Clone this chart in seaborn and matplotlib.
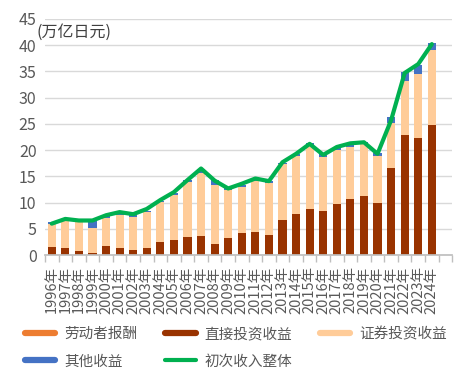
import numpy as np
import pandas as pd
import matplotlib
matplotlib.use('Agg')
import matplotlib.pyplot as plt
from matplotlib.lines import Line2D
from matplotlib.ticker import MultipleLocator
import seaborn as sns

sns.set_theme(style='white')
plt.rcParams['font.family'] = ['Noto Sans CJK SC', 'DejaVu Sans']

years = [str(y) + '年' for y in range(1996, 2025)]
# 各项收益（万亿日元）
labor = [0.03] * 29
direct = [1.6, 1.3, 0.8, 0.4, 1.8, 1.3, 1.0, 1.3, 2.5, 2.9, 3.4, 3.6, 2.0, 3.3, 4.1,
          4.4, 3.9, 6.7, 7.9, 8.8, 8.4, 9.7, 10.7, 11.2, 9.9, 16.6, 22.8, 22.2, 24.7]
securities = [4.3, 5.4, 5.4, 4.8, 5.2, 6.3, 6.3, 6.8, 7.5, 8.5, 10.5, 12.1, 11.3, 9.0, 8.9,
              9.6, 9.8, 10.6, 11.0, 12.0, 10.3, 10.3, 9.8, 10.1, 9.0, 8.5, 10.4, 12.2, 14.4]
other = [0.3, 0.0, 0.2, 1.5, 0.4, 0.3, 0.3, 0.2, 0.3, 0.4, 0.4, 0.7, 1.0, 0.4, 0.3,
         0.3, 0.3, 0.3, 0.4, 0.5, 0.6, 0.3, 0.7, 0.2, 0.5, 1.1, 1.7, 1.7, 1.2]
total = [6.0, 6.9, 6.6, 6.6, 7.6, 8.2, 7.8, 8.8, 10.5, 12.0, 14.3, 16.5, 14.2, 12.7, 13.6,
         14.6, 14.1, 17.7, 19.3, 21.2, 19.1, 20.6, 21.3, 21.5, 19.3, 25.7, 34.7, 36.4, 40.2]

df = pd.DataFrame({'year': years, 'labor': labor, 'direct': direct,
                   'securities': securities, 'other': other})
df['c1'] = df['labor']
df['c2'] = df['c1'] + df['direct']
df['c3'] = df['c2'] + df['securities']
df['c4'] = df['c3'] + df['other']

c_labor = '#ED7D31'
c_direct = '#993300'
c_sec = '#FFCC99'
c_other = '#4472C4'
c_total = '#00B050'

order = years + [' ']  # Excel 留了一个空位

fig = plt.figure(figsize=(4.73, 3.78), dpi=100)
ax = fig.add_axes([0.095, 0.325, 0.861, 0.625])

# 从上往下叠着画，后画的盖住前面的
for col, c in [('c4', c_other), ('c3', c_sec), ('c2', c_direct), ('c1', c_labor)]:
    sns.barplot(data=df, x='year', y=col, order=order, color=c, width=0.6,
                saturation=1, ax=ax, linewidth=0)

sns.lineplot(x=np.arange(len(years)), y=total, color=c_total, lw=3, ax=ax)

ax.set_xlim(-0.5, len(order) - 0.5)
ax.set_ylim(0, 45)
ax.yaxis.set_major_locator(MultipleLocator(5))
ax.grid(axis='y', color='#D9D9D9', lw=1)
ax.set_axisbelow(True)
for s in ['top', 'right', 'left']:
    ax.spines[s].set_visible(False)
ax.spines['bottom'].set_color('#BFBFBF')
ax.set_xlabel('')
ax.set_ylabel('')
ax.set_xticks(range(len(order)))
ax.set_xticklabels(order, rotation=90, fontsize=10.5, color='#595959')
ax.tick_params(axis='x', which='major', length=0, pad=8)
ax.set_xticks(np.arange(-0.5, len(order)), minor=True)
ax.tick_params(axis='x', which='minor', length=5, color='#BFBFBF', width=1, bottom=True)
ax.tick_params(axis='y', length=0, labelsize=11.5, labelcolor='#595959', pad=6)

fig.text(0.078, 0.915, '(万亿日元)', fontsize=11.5, color='#404040', va='center')

# 按列填充，所以顺序要调一下才能横着排
handles = [Line2D([], [], color=c_labor, lw=4.5),
           Line2D([], [], color=c_other, lw=4.5),
           Line2D([], [], color=c_direct, lw=4.5),
           Line2D([], [], color=c_total, lw=3),
           Line2D([], [], color=c_sec, lw=4.5)]
labels = ['劳动者报酬', '其他收益', '直接投资收益', '初次收入整体', '证券投资收益']
fig.legend(handles, labels, ncol=3, loc='lower left', bbox_to_anchor=(0.04, 0.01),
           frameon=False, fontsize=10.5, handlelength=2.1, handletextpad=0.6,
           columnspacing=1.9, labelspacing=0.9, labelcolor='#595959', borderaxespad=0)

fig.savefig('out.png', dpi=100)
